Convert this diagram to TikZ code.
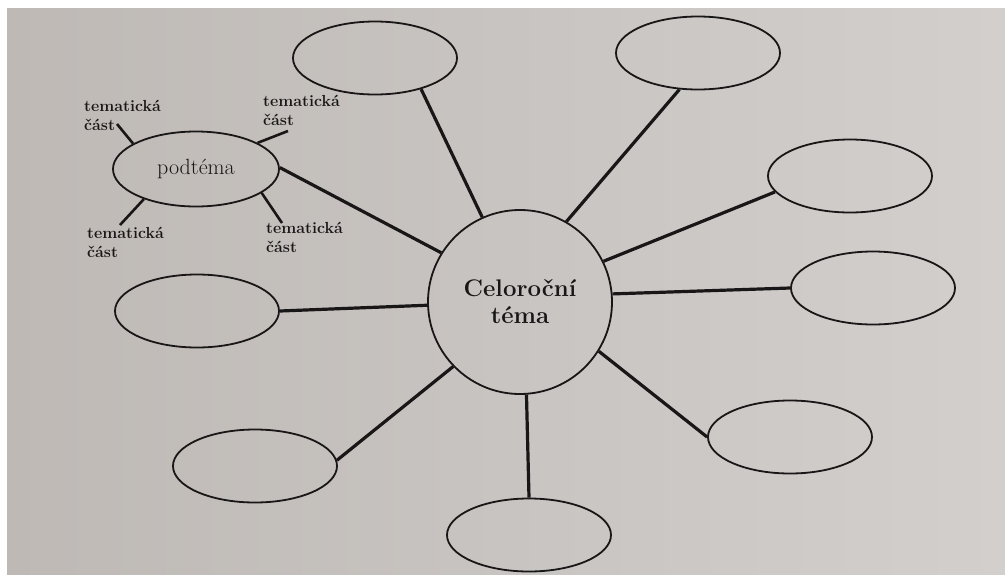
\documentclass[tikz,border=0pt]{standalone}
\usepackage{fontspec}
\usetikzlibrary{shapes.geometric}
\definecolor{paperL}{RGB}{190,185,181}
\definecolor{paperR}{RGB}{210,207,205}
\definecolor{ink}{RGB}{24,22,22}
\begin{document}
\begin{tikzpicture}[x=1pt, y=-1pt,
  bubble/.style={draw=ink, line width=1.8pt, ellipse, minimum width=164pt, minimum height=73pt, inner sep=0pt},
  spoke/.style={draw=ink, line width=3.2pt},
  twig/.style={draw=ink, line width=2.6pt},
  part/.style={anchor=north west, align=left, inner sep=0pt, text=ink, font=\fontsize{16}{19}\selectfont\bfseries}]

\useasboundingbox (0, 0) rectangle (1005, 574);
\shade[left color=paperL, right color=paperR] (7, 8) rectangle (1005, 574);

\node[circle, draw=ink, line width=1.8pt, minimum size=184pt, align=center, text=ink,
  font=\fontsize{24}{27}\selectfont\bfseries] (tema) at (520, 302) {Celoroční\\téma};

\node[bubble] (e1) at (375, 58) {};
\node[bubble] (e2) at (698, 53) {};
\node[bubble] (e3) at (850, 176) {};
\node[bubble] (e4) at (873, 288) {};
\node[bubble] (e5) at (790, 437) {};
\node[bubble] (e6) at (529, 535) {};
\node[bubble] (e7) at (255, 466) {};
\node[bubble] (e8) at (197, 311) {};
\node[bubble, minimum width=166pt, minimum height=75pt, text=ink,
  font=\fontsize{22}{24}\selectfont] (sub) at (196, 169) {podtéma};

\draw[spoke] (tema.114) -- (e1.326);
\draw[spoke] (tema.60) -- (e2.243);
\draw[spoke] (tema.26) -- (e3.192);
\draw[spoke] (tema.5) -- (e4.180);
\draw[spoke] (tema.-32) -- (e5.180);
\draw[spoke] (tema.-86) -- (e6.90);
\draw[spoke] (tema.224) -- (e7.4);
\draw[spoke] (tema.182) -- (e8.0);
\draw[spoke] (tema.148) -- (sub.1);
%
\coordinate (tlEnd) at (117, 124);
\coordinate (trEnd) at (288, 131);
\coordinate (blEnd) at (120, 225);
\coordinate (brEnd) at (282, 223);

\draw[twig] (sub.158) -- (tlEnd);
\draw[twig] (sub.23) -- (trEnd);
\draw[twig] (sub.210) -- (blEnd);
\draw[twig] (sub.340) -- (brEnd);

\node[part] (tlPart) at (84, 100) {tematická\\část};
\node[part] (trPart) at (263, 95) {tematická\\část};
\node[part] (blPart) at (87, 227) {tematická\\část};
\node[part] (brPart) at (266, 222) {tematická\\část};

\end{tikzpicture}
\end{document}
